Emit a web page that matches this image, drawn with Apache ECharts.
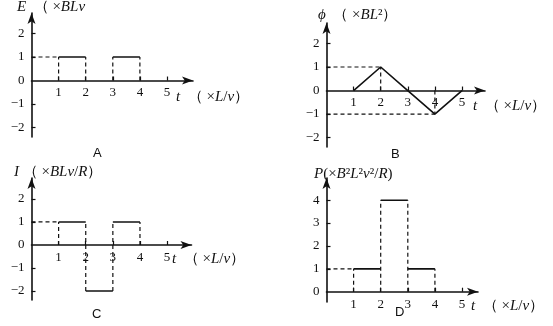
<!DOCTYPE html>
<html>
<head>
<meta charset="utf-8">
<script src="https://cdn.jsdelivr.net/npm/echarts@6/dist/echarts.min.js"></script>
<style>
html,body{margin:0;padding:0;background:#fff;}
#c{width:553px;height:326px;}
</style>
</head>
<body>
<div id="c"></div>
<script>
// ---- data ----
const tEdges = [0, 1, 2, 3, 4, 5];
const eLevels = [0, 1, 0, 1, 0];      // A: E (×BLv)
const iLevels = [0, 1, -2, 1, 0];     // C: I (×BLv/R)
const pLevels = [0, 1, 4, 1, 0];      // D: P (×B²L²v²/R)
const phiT = [1, 2, 3, 4, 5];         // B: ϕ (×BL²)
const phiV = [0, 1, 0, -1, 0];
const phiGuideIdx = [1, 3];           // extremes with dashed guides
const xTicks = [1, 2, 3, 4, 5];
const yTicksAC = [-2, -1, 0, 1, 2];
const yTicksD = [0, 1, 2, 3, 4];

const INK = '#111';
const FONT = 'Liberation Serif';

// panel layout
const panels = [
  {left: 31.5, top: 13, width: 161.5, height: 124, xMax: 5.96, yMin: -2.4, yMax: 2.87, yTicks: yTicksAC},
  {left: 326.5, top: 23, width: 158.5, height: 124, xMax: 5.85, yMin: -2.4, yMax: 2.87, yTicks: yTicksAC},
  {left: 31.5, top: 178, width: 160, height: 122, xMax: 5.9, yMin: -2.39, yMax: 2.91, yTicks: yTicksAC},
  {left: 326.5, top: 178, width: 151.5, height: 124, xMax: 5.59, yMin: -0.45, yMax: 4.97, yTicks: yTicksD}
];

const grids = [], xAxes = [], yAxes = [];
panels.forEach((p, i) => {
  grids.push({left: p.left, top: p.top, width: p.width, height: p.height, containLabel: false});
  // lift the x axis (line + labels) from the grid bottom up to the y = 0 level
  const zeroOffset = -(0 - p.yMin) / (p.yMax - p.yMin) * p.height;
  xAxes.push({
    type: 'value', gridIndex: i, min: 0, max: p.xMax, position: 'bottom', offset: zeroOffset,
    axisLine: {onZero: false, symbol: ['none', 'arrow'], symbolSize: [6, 11], lineStyle: {color: INK, width: 1.6}},
    axisTick: {customValues: xTicks, inside: true, length: 4, lineStyle: {color: INK, width: 1.2}},
    axisLabel: {customValues: xTicks, margin: 6, color: INK, fontFamily: FONT, fontSize: 13},
    splitLine: {show: false}
  });
  yAxes.push({
    type: 'value', gridIndex: i, min: p.yMin, max: p.yMax,
    axisLine: {onZero: false, symbol: ['none', 'arrow'], symbolSize: [6, 11], lineStyle: {color: INK, width: 1.6}},
    axisTick: {customValues: p.yTicks.filter(v => v !== 0), inside: true, length: 4, lineStyle: {color: INK, width: 1.2}},
    axisLabel: {customValues: p.yTicks, margin: 7, color: INK, fontFamily: FONT, fontSize: 13,
      formatter: v => String(v).replace('-', '−')},
    splitLine: {show: false}
  });
});

const series = [];
function seg(gi, pts, dashed) {
  series.push({
    type: 'line', xAxisIndex: gi, yAxisIndex: gi, data: pts, symbol: 'none', silent: true,
    lineStyle: {color: INK, width: dashed ? 1.2 : 1.6, type: dashed ? [4, 3] : 'solid'},
    z: dashed ? 2 : 3
  });
}
function stepPanel(gi, levels) {
  for (let k = 0; k < levels.length; k++) {
    if (levels[k] !== 0) seg(gi, [[tEdges[k], levels[k]], [tEdges[k + 1], levels[k]]], false);
  }
  for (let k = 1; k < levels.length; k++) {
    const a = levels[k - 1], b = levels[k];
    if (a !== b) seg(gi, [[tEdges[k], Math.min(0, a, b)], [tEdges[k], Math.max(0, a, b)]], true);
  }
  const first = levels.findIndex(v => v !== 0);
  seg(gi, [[0, levels[first]], [tEdges[first], levels[first]]], true);
}
stepPanel(0, eLevels);
stepPanel(2, iLevels);
stepPanel(3, pLevels);
seg(1, phiT.map((t, k) => [t, phiV[k]]), false);
phiGuideIdx.forEach(k => {
  seg(1, [[0, phiV[k]], [phiT[k], phiV[k]]], true);
  seg(1, [[phiT[k], 0], [phiT[k], phiV[k]]], true);
});

const rich = {
  i: {fontFamily: FONT, fontStyle: 'italic', fontWeight: 'normal', fontSize: 15, color: INK},
  n: {fontFamily: FONT, fontWeight: 'normal', fontSize: 15, color: INK}
};
function txt(text, left, top) {
  return {text: text, left: left, top: top, padding: 0,
    textStyle: {rich: rich, fontFamily: FONT, fontWeight: 'normal', fontSize: 15, color: INK}};
}
function letter(text, left, top) {
  return {text: text, left: left, top: top, padding: 0,
    textStyle: {fontFamily: 'Liberation Sans', fontSize: 13, fontWeight: 'normal', color: INK}};
}
const titles = [
  txt('{i|E}{n|  （ ×}{i|BLv}', 17, 0),
  txt('{i|ϕ}{n|  （ ×}{i|BL}{n|²）}', 318, 8),
  txt('{i|I}{n| （ ×}{i|BLv}{n|/}{i|R}{n|）}', 14, 165),
  txt('{i|P}{n|(×}{i|B}{n|²}{i|L}{n|²}{i|v}{n|²/}{i|R}{n|)}', 314, 167),
  txt('{i|t}{n|  （ ×}{i|L}{n|/}{i|v}{n|）}', 176, 90),
  txt('{i|t}{n|  （ ×}{i|L}{n|/}{i|v}{n|）}', 473, 99),
  txt('{i|t}{n|  （ ×}{i|L}{n|/}{i|v}{n|）}', 172, 252),
  txt('{i|t}{n|  （ ×}{i|L}{n|/}{i|v}{n|）}', 471, 299),
  letter('A', 93, 147),
  letter('B', 391, 148),
  letter('C', 92, 308),
  letter('D', 395, 306)
];

const chart = echarts.init(document.getElementById('c'), null, {renderer: 'canvas'});
chart.setOption({
  backgroundColor: '#fff',
  animation: false,
  title: titles,
  grid: grids,
  xAxis: xAxes,
  yAxis: yAxes,
  series: series
});
</script>
</body>
</html>
